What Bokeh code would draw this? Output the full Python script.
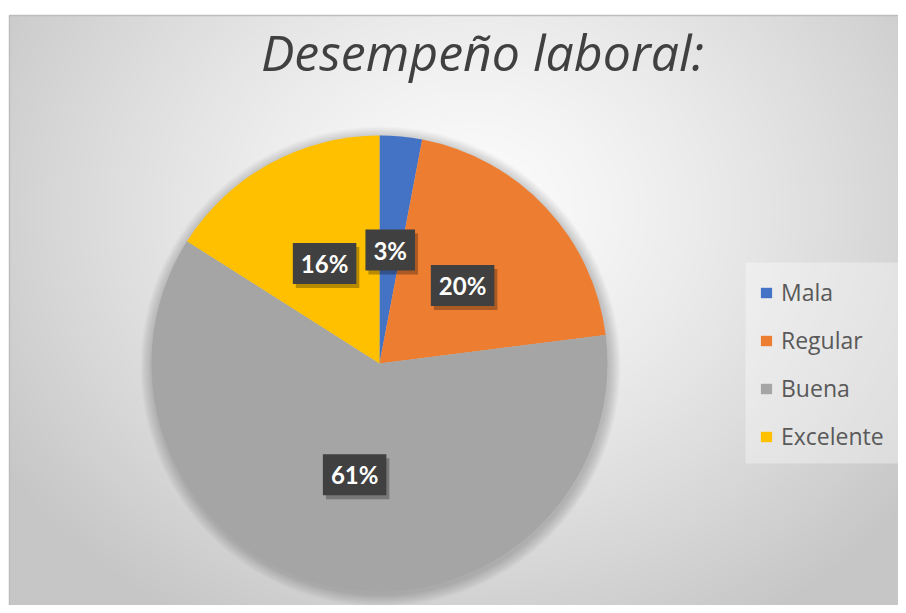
import numpy as np
from bokeh.plotting import figure
from bokeh.models import Range1d, Legend, LegendItem, ColumnDataSource
from bokeh.core.properties import value
from bokeh.embed import file_html
from bokeh.resources import INLINE

# ---- data ----
categories = ["Mala", "Regular", "Buena", "Excelente"]
percentages = [3, 20, 61, 16]
colors = ["#4472C4", "#ED7D31", "#A5A5A5", "#FFC000"]
title_text = "Desempeño laboral:"

# ---- layout (picture px -> data units, y up) ----
W, H = 898, 605
def sy(y):
    return H - y

p = figure(width=W, height=H, output_backend="svg", toolbar_location=None,
           x_range=Range1d(0, W), y_range=Range1d(0, H),
           min_border=0, outline_line_color=None)
p.axis.visible = False
p.grid.visible = False
p.background_fill_color = "white"
p.border_fill_color = "white"

# ---- radial gradient chart-area background ----
fx0, fy0, fx1, fy1 = 9, 15, W, H
gw, gh = fx1 - fx0, fy1 - fy0
xs = np.arange(gw) + fx0
ys_screen = (fy1 - np.arange(gh))  # row 0 = bottom
XX, YY = np.meshgrid(xs, ys_screen)
cx, cy, rx, ry = 470, 210, 560, 480
d = np.sqrt(((XX - cx) / rx) ** 2 + ((YY - cy) / ry) ** 2)
d = np.clip(d, 0, 1) ** 1.3
c0, c1 = 252, 198
g = (c0 + (c1 - c0) * d).astype(np.uint8)
img = np.empty((gh, gw), dtype=np.uint32)
view = img.view(dtype=np.uint8).reshape((gh, gw, 4))
view[:, :, 0] = g
view[:, :, 1] = g
view[:, :, 2] = g
view[:, :, 3] = 255
p.image_rgba(image=[img], x=fx0, y=0, dw=gw, dh=gh)
p.line(x=[fx0, fx0, fx1], y=[0, sy(fy0), sy(fy0)], line_color="#bdbdbd", line_width=1.5)

# legend panel background
lb_l, lb_r, lb_t, lb_b = 745, 904, 262, 463
p.quad(left=lb_l, right=lb_r, top=sy(lb_t), bottom=sy(lb_b), fill_color="white",
       fill_alpha=0.35, line_color=None)

# ---- pie ----
pcx, pcy, R = 379, sy(363), 228
# soft shadow
for k in range(10):
    p.circle(x=pcx + 1, y=pcy - 3, radius=R + 12 - k * 1.2, fill_color="black",
             fill_alpha=0.018, line_color=None)

total = float(sum(percentages))
cum = np.cumsum([0] + percentages) / total
starts = [np.pi / 2 - cum[i + 1] * 2 * np.pi for i in range(len(percentages))]
ends = [np.pi / 2 - cum[i] * 2 * np.pi for i in range(len(percentages))]
mids = [np.pi / 2 - (cum[i] + cum[i + 1]) / 2 * 2 * np.pi for i in range(len(percentages))]

src = ColumnDataSource(dict(cat=categories, start=starts, end=ends, color=colors,
                            lx=[pcx + 0.5 * R * np.cos(a) for a in mids],
                            ly=[pcy + 0.5 * R * np.sin(a) for a in mids],
                            lab=[f"{v}%" for v in percentages]))
wr = p.wedge(x=pcx, y=pcy, radius=R, start_angle="start", end_angle="end",
             fill_color="color", line_color=None, source=src)

# ---- data labels ----
pad = {"left": 8, "right": 8, "top": 6, "bottom": 6}
p.text(x="lx", y="ly", text="lab", source=src, text_align="center", text_baseline="middle",
       text_font=value("Lato"), text_font_style="bold", text_font_size="24px",
       text_alpha=0, x_offset=3, y_offset=4, padding=pad,
       background_fill_color="black", background_fill_alpha=0.28)
p.text(x="lx", y="ly", text="lab", source=src, text_align="center", text_baseline="middle",
       text_font=value("Lato"), text_font_style="bold", text_font_size="24px",
       text_color="white", padding=pad,
       background_fill_color="#404040", background_fill_alpha=1.0)

# ---- title ----
p.text(x=[482], y=[sy(51)], text=[title_text], text_align="center", text_baseline="middle",
       text_font=value("Open Sans"), text_font_style="italic", text_font_size="50px",
       text_color="#404040")

# ---- legend ----
items = [LegendItem(label=c, renderers=[wr], index=i) for i, c in enumerate(categories)]
legend = Legend(items=items, location=(759, H - 452),
                label_text_font="Open Sans", label_text_font_size="23px", label_text_color="#595959",
                glyph_width=14, glyph_height=13, label_standoff=8,
                spacing=16, padding=16, margin=0,
                background_fill_alpha=0, border_line_color=None)
p.add_layout(legend)

open("out.html", "w").write(file_html(p, INLINE))
